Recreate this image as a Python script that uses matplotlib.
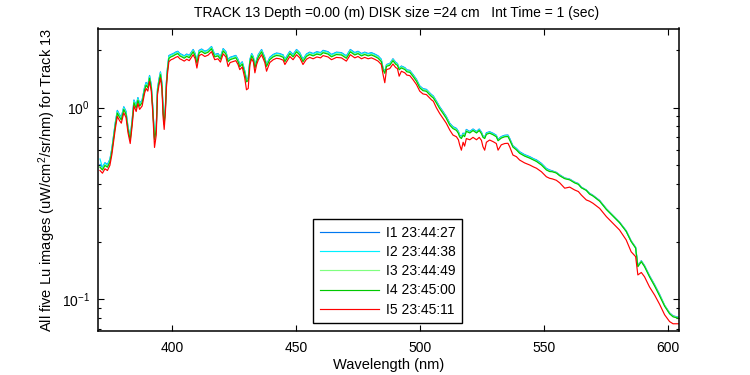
import matplotlib
matplotlib.use("Agg")
import matplotlib.pyplot as plt
from matplotlib.ticker import FixedLocator, LogLocator, NullFormatter

plt.rcParams['font.family'] = ['Liberation Sans', 'DejaVu Sans']
plt.rcParams['mathtext.default'] = 'regular'

wavelength = [
    371.0, 372.0, 373.0, 374.0, 375.0, 375.8, 376.5, 377.2, 378.0, 378.8,
    379.6, 380.6, 381.5, 382.3, 383.2, 384.0, 384.7, 385.6, 386.3, 387.0,
    388.0, 389.0, 389.6, 390.3, 391.0, 391.7, 392.3, 393.0, 393.7, 394.2,
    394.8, 395.4, 396.0, 396.5, 396.9, 397.4, 397.8, 398.2, 398.8,
    399.7, 400.6, 401.5, 402.4, 403.2, 404.0, 405.0, 406.0, 407.0, 408.0,
    408.6, 409.4, 410.1, 411.0, 412.0, 413.3, 414.6, 416.0, 417.3, 418.6,
    419.6, 420.7, 421.8, 422.7, 423.5, 424.7, 425.8, 426.7, 427.4, 428.4,
    429.4, 430.1, 430.8, 431.5, 432.2, 432.9, 433.5, 434.2, 434.9, 436.2,
    437.5, 438.2, 439.5, 440.9, 442.2, 443.5, 444.9, 445.6, 446.9, 447.6,
    448.9, 450.3, 451.6, 452.9, 454.3, 455.6, 457.0, 458.5, 460.0, 461.0,
    463.0, 464.4, 466.4, 468.4, 470.4, 472.0, 473.8, 475.1, 476.5, 477.8,
    479.2, 480.5, 481.8, 483.2, 484.5,
    485.2, 485.9, 486.6, 487.9, 489.2, 490.3, 491.0, 491.7, 492.6, 494.0,
    494.8, 496.0, 497.3, 498.7, 500.0, 501.3, 502.7, 503.8, 504.7, 505.5,
    506.7, 508.0, 509.4, 510.7, 512.1, 513.4, 514.8, 515.6, 516.1, 516.8,
    517.5, 518.1, 518.8,
    520.2, 521.5, 522.9, 524.0, 524.9, 525.5, 526.2, 526.9, 528.2, 529.6,
    530.9, 531.6, 532.9, 534.3, 535.6, 536.3, 537.6, 539.0, 540.3, 542.3,
    544.4, 546.0, 547.1, 549.1, 551.1, 552.4,
    553.5, 555.1, 556.5, 558.5, 560.5, 562.5, 564.0, 565.2, 567.2, 568.5,
    569.9, 572.6, 575.3, 578.0, 580.6, 583.3, 585.3, 587.1, 588.0, 589.4,
    590.7, 592.7, 594.8, 596.8, 598.8, 600.8, 602.2, 604.5,
]

I5 = [
    0.47, 0.455, 0.48, 0.47, 0.50, 0.57, 0.67, 0.78, 0.90, 0.86,
    0.83, 0.94, 0.89, 0.74, 0.65, 0.81, 1.02, 0.955, 1.05, 0.98,
    1.02, 1.19, 1.26, 1.22, 1.37, 1.22, 0.94, 0.62, 0.72, 1.17,
    1.31, 1.43, 1.25, 0.88, 0.77, 0.95, 1.27, 1.49, 1.74,
    1.78, 1.80, 1.83, 1.85, 1.80, 1.78, 1.75, 1.79, 1.76, 1.84,
    1.89, 1.80, 1.61, 1.87, 1.90, 1.85, 1.88, 1.96, 1.78, 1.80,
    1.73, 1.91, 1.84, 1.64, 1.72, 1.74, 1.76, 1.68, 1.58, 1.63,
    1.43, 1.24, 1.26, 1.68, 1.80, 1.73, 1.52, 1.68, 1.78, 1.89,
    1.72, 1.55, 1.72, 1.78, 1.81, 1.80, 1.77, 1.68, 1.79, 1.85,
    1.78, 1.89, 1.82, 1.68, 1.79, 1.83, 1.80, 1.84, 1.82, 1.87,
    1.84, 1.78, 1.83, 1.82, 1.75, 1.89, 1.82, 1.85, 1.80, 1.83,
    1.80, 1.82, 1.79, 1.75, 1.68,
    1.49, 1.35, 1.58, 1.60, 1.69, 1.62, 1.60, 1.46, 1.55, 1.52,
    1.48, 1.47, 1.40, 1.32, 1.22, 1.18, 1.17, 1.13, 1.10, 1.08,
    1.00, 0.935, 0.88, 0.83, 0.765, 0.72, 0.705, 0.68, 0.64, 0.60,
    0.66, 0.63, 0.69,
    0.68, 0.70, 0.68, 0.70, 0.675, 0.626, 0.60, 0.66, 0.678, 0.665,
    0.65, 0.60, 0.64, 0.65, 0.652, 0.625, 0.566, 0.555, 0.533, 0.515,
    0.502, 0.49, 0.483, 0.463, 0.436, 0.428,
    0.425, 0.418, 0.405, 0.38, 0.385, 0.372, 0.365, 0.35, 0.33, 0.325,
    0.317, 0.298, 0.27, 0.249, 0.23, 0.204, 0.177, 0.167, 0.134, 0.138,
    0.131, 0.116, 0.105, 0.094, 0.083, 0.0765, 0.0745, 0.0745,
]

I4 = [
    0.489, 0.473, 0.499, 0.489, 0.52, 0.593, 0.697, 0.811, 0.936, 0.894,
    0.863, 0.978, 0.926, 0.77, 0.676, 0.842, 1.061, 0.993, 1.092, 1.019,
    1.061, 1.238, 1.31, 1.269, 1.425, 1.269, 0.978, 0.682, 0.77, 1.217,
    1.362, 1.487, 1.30, 0.933, 0.816, 0.988, 1.321, 1.55, 1.81,
    1.842, 1.863, 1.894, 1.915, 1.863, 1.842, 1.811, 1.853, 1.822, 1.904,
    1.956, 1.863, 1.707, 1.935, 1.967, 1.915, 1.946, 2.029, 1.842, 1.863,
    1.791, 1.977, 1.904, 1.738, 1.78, 1.801, 1.822, 1.739, 1.635, 1.687,
    1.516, 1.364, 1.386, 1.739, 1.863, 1.791, 1.611, 1.739, 1.842, 1.956,
    1.78, 1.643, 1.78, 1.842, 1.873, 1.863, 1.832, 1.739, 1.853, 1.915,
    1.842, 1.956, 1.884, 1.739, 1.853, 1.894, 1.863, 1.904, 1.884, 1.935,
    1.904, 1.842, 1.894, 1.884, 1.811, 1.956, 1.884, 1.915, 1.863, 1.894,
    1.863, 1.884, 1.853, 1.811, 1.739,
    1.579, 1.512, 1.643, 1.664, 1.758, 1.685, 1.664, 1.577, 1.612, 1.581,
    1.539, 1.529, 1.456, 1.373, 1.269, 1.227, 1.217, 1.175, 1.144, 1.123,
    1.06, 0.991, 0.933, 0.88, 0.811, 0.778, 0.761, 0.734, 0.704, 0.69,
    0.719, 0.706, 0.752,
    0.738, 0.76, 0.738, 0.76, 0.732, 0.701, 0.69, 0.726, 0.736, 0.722,
    0.705, 0.672, 0.694, 0.705, 0.707, 0.678, 0.623, 0.602, 0.578, 0.559,
    0.545, 0.532, 0.524, 0.502, 0.473, 0.464,
    0.463, 0.456, 0.441, 0.426, 0.42, 0.405, 0.398, 0.382, 0.37, 0.354,
    0.346, 0.325, 0.294, 0.271, 0.251, 0.226, 0.200, 0.185, 0.148, 0.157,
    0.148, 0.131, 0.117, 0.104, 0.092, 0.084, 0.081, 0.0795,
]

I3 = [
    0.494, 0.478, 0.504, 0.494, 0.525, 0.599, 0.704, 0.819, 0.945, 0.903,
    0.872, 0.987, 0.935, 0.777, 0.683, 0.851, 1.071, 1.003, 1.103, 1.029,
    1.071, 1.25, 1.323, 1.281, 1.439, 1.281, 0.987, 0.688, 0.778, 1.229,
    1.376, 1.502, 1.313, 0.942, 0.824, 0.998, 1.334, 1.565, 1.827,
    1.86, 1.881, 1.912, 1.933, 1.881, 1.86, 1.829, 1.871, 1.839, 1.923,
    1.975, 1.881, 1.72, 1.954, 1.986, 1.933, 1.965, 2.048, 1.86, 1.881,
    1.808, 1.996, 1.923, 1.75, 1.797, 1.818, 1.839, 1.756, 1.651, 1.703,
    1.53, 1.38, 1.40, 1.756, 1.881, 1.808, 1.625, 1.756, 1.86, 1.975,
    1.797, 1.655, 1.797, 1.86, 1.891, 1.881, 1.85, 1.756, 1.871, 1.933,
    1.86, 1.975, 1.902, 1.756, 1.871, 1.912, 1.881, 1.923, 1.902, 1.954,
    1.923, 1.86, 1.912, 1.902, 1.829, 1.975, 1.902, 1.933, 1.881, 1.912,
    1.881, 1.902, 1.871, 1.829, 1.756,
    1.59, 1.52, 1.66, 1.68, 1.775, 1.70, 1.68, 1.585, 1.628, 1.596,
    1.554, 1.544, 1.47, 1.386, 1.281, 1.239, 1.229, 1.187, 1.155, 1.134,
    1.07, 1.0, 0.942, 0.888, 0.819, 0.785, 0.768, 0.741, 0.71, 0.695,
    0.726, 0.712, 0.759,
    0.741, 0.763, 0.741, 0.763, 0.736, 0.705, 0.693, 0.73, 0.739, 0.725,
    0.709, 0.676, 0.698, 0.709, 0.711, 0.681, 0.626, 0.605, 0.581, 0.561,
    0.547, 0.534, 0.526, 0.505, 0.475, 0.467,
    0.465, 0.458, 0.443, 0.428, 0.422, 0.407, 0.40, 0.383, 0.371, 0.356,
    0.347, 0.326, 0.296, 0.273, 0.252, 0.227, 0.201, 0.186, 0.149, 0.158,
    0.149, 0.132, 0.118, 0.105, 0.093, 0.0845, 0.0815, 0.08,
]

I2 = [
    0.54, 0.487, 0.514, 0.503, 0.535, 0.61, 0.717, 0.835, 0.963, 0.92,
    0.888, 1.006, 0.952, 0.792, 0.696, 0.867, 1.091, 1.022, 1.124, 1.049,
    1.091, 1.273, 1.348, 1.305, 1.466, 1.305, 1.006, 0.694, 0.787, 1.252,
    1.402, 1.53, 1.338, 0.95, 0.835, 1.017, 1.359, 1.594, 1.862,
    1.887, 1.908, 1.94, 1.961, 1.908, 1.887, 1.855, 1.897, 1.866, 1.95,
    2.003, 1.908, 1.74, 1.982, 2.014, 1.961, 1.993, 2.078, 1.887, 1.908,
    1.834, 2.025, 1.95, 1.77, 1.823, 1.844, 1.866, 1.781, 1.675, 1.728,
    1.55, 1.40, 1.42, 1.781, 1.908, 1.834, 1.64, 1.781, 1.887, 2.003,
    1.823, 1.67, 1.823, 1.887, 1.919, 1.908, 1.876, 1.781, 1.897, 1.961,
    1.887, 2.003, 1.929, 1.781, 1.897, 1.94, 1.908, 1.95, 1.929, 1.982,
    1.95, 1.887, 1.94, 1.929, 1.855, 2.003, 1.929, 1.961, 1.908, 1.94,
    1.908, 1.929, 1.897, 1.855, 1.781,
    1.60, 1.53, 1.675, 1.696, 1.79, 1.717, 1.696, 1.60, 1.643, 1.611,
    1.569, 1.558, 1.484, 1.399, 1.293, 1.251, 1.24, 1.198, 1.166, 1.145,
    1.08, 1.01, 0.95, 0.896, 0.826, 0.792, 0.775, 0.748, 0.717, 0.70,
    0.733, 0.718, 0.766,
    0.748, 0.77, 0.748, 0.77, 0.743, 0.71, 0.70, 0.736, 0.746, 0.732,
    0.715, 0.68, 0.704, 0.715, 0.717, 0.688, 0.63, 0.611, 0.586, 0.567,
    0.552, 0.539, 0.531, 0.509, 0.48, 0.471,
    0.465, 0.458, 0.443, 0.428, 0.422, 0.407, 0.40, 0.383, 0.371, 0.356,
    0.347, 0.326, 0.296, 0.273, 0.252, 0.227, 0.201, 0.186, 0.149, 0.158,
    0.149, 0.132, 0.118, 0.105, 0.093, 0.0845, 0.0815, 0.08,
]

I1 = [
    0.505, 0.489, 0.516, 0.505, 0.538, 0.613, 0.72, 0.839, 0.968, 0.925,
    0.892, 1.011, 0.957, 0.796, 0.699, 0.871, 1.097, 1.027, 1.129, 1.054,
    1.097, 1.279, 1.355, 1.312, 1.473, 1.312, 1.011, 0.70, 0.792, 1.258,
    1.408, 1.537, 1.344, 0.955, 0.84, 1.021, 1.365, 1.602, 1.871,
    1.896, 1.917, 1.949, 1.97, 1.917, 1.896, 1.864, 1.906, 1.874, 1.96,
    2.013, 1.917, 1.75, 1.992, 2.024, 1.97, 2.002, 2.087, 1.896, 1.917,
    1.842, 2.034, 1.96, 1.78, 1.832, 1.853, 1.874, 1.789, 1.683, 1.736,
    1.56, 1.41, 1.43, 1.789, 1.917, 1.842, 1.65, 1.789, 1.896, 2.013,
    1.832, 1.68, 1.832, 1.896, 1.928, 1.917, 1.885, 1.789, 1.906, 1.97,
    1.896, 2.013, 1.938, 1.789, 1.906, 1.949, 1.917, 1.96, 1.938, 1.992,
    1.96, 1.896, 1.949, 1.938, 1.864, 2.013, 1.938, 1.97, 1.917, 1.949,
    1.917, 1.938, 1.906, 1.864, 1.789,
    1.61, 1.54, 1.68, 1.70, 1.80, 1.725, 1.70, 1.605, 1.65, 1.618,
    1.576, 1.565, 1.49, 1.405, 1.30, 1.257, 1.246, 1.203, 1.172, 1.15,
    1.085, 1.014, 0.955, 0.901, 0.83, 0.796, 0.78, 0.752, 0.72, 0.705,
    0.737, 0.722, 0.77,
    0.751, 0.774, 0.751, 0.774, 0.746, 0.713, 0.703, 0.74, 0.749, 0.735,
    0.718, 0.684, 0.707, 0.718, 0.72, 0.691, 0.633, 0.613, 0.589, 0.569,
    0.555, 0.541, 0.534, 0.512, 0.482, 0.473,
    0.468, 0.46, 0.446, 0.43, 0.424, 0.409, 0.402, 0.385, 0.372, 0.358,
    0.349, 0.328, 0.297, 0.274, 0.253, 0.228, 0.202, 0.187, 0.15, 0.159,
    0.15, 0.133, 0.119, 0.106, 0.093, 0.085, 0.082, 0.0805,
]

series = [I1, I2, I3, I4, I5]
labels = ["I1 23:44:27", "I2 23:44:38", "I3 23:44:49", "I4 23:45:00", "I5 23:45:11"]
colors = ["#0078F0", "#00F0FF", "#80FF80", "#00C800", "#FF0000"]
xticks = [400, 450, 500, 550, 600]
title = "TRACK 13 Depth =0.00 (m) DISK size =24 cm   Int Time = 1 (sec)"
xlabel = "Wavelength (nm)"
ylabel = "All five Lu images (uW/cm$^2$/sr/nm) for Track 13"

fig = plt.figure(figsize=(7.5, 3.75), dpi=100)
ax = fig.add_axes([98 / 750, 1 - 331 / 375, 581 / 750, 302.5 / 375])

for ys, lab, col in zip(series, labels, colors):
    ax.plot(wavelength, ys, color=col, lw=0.85, label=lab)

ax.set_yscale('log')
ax.set_xlim(370.2, 604.6)
ax.set_ylim(0.0683, 2.59)
ax.xaxis.set_major_locator(FixedLocator(xticks))
ax.yaxis.set_major_locator(LogLocator(base=10))
ax.yaxis.set_minor_locator(LogLocator(base=10, subs=range(2, 10)))
ax.yaxis.set_minor_formatter(NullFormatter())

ax.tick_params(axis='both', which='both', direction='in', top=True, right=True,
               width=0.8, color='black')
ax.tick_params(axis='both', which='major', length=4, labelsize=10)
ax.tick_params(axis='y', which='minor', length=2.5)
ax.tick_params(axis='x', which='major', pad=7)
ax.tick_params(axis='y', which='major', pad=6)
for sp in ax.spines.values():
    sp.set_linewidth(1.1)

ax.set_title(title, fontsize=10, pad=8, x=(397 - 98) / 581)
ax.set_xlabel(xlabel, fontsize=10.5, labelpad=2)
ax.set_ylabel(ylabel, fontsize=10.5)
ax.yaxis.set_label_coords((58 - 98) / 581, 0.5)

leg = ax.legend(loc='upper left', bbox_to_anchor=(312.7 / 750, 1 - 219 / 375),
                bbox_transform=fig.transFigure, borderaxespad=0, fontsize=10,
                frameon=True, fancybox=False, shadow=False, borderpad=0.5,
                handlelength=4.3, handletextpad=0.45, labelspacing=0.37)
leg.get_frame().set_edgecolor('black')
leg.get_frame().set_linewidth(1.0)
leg.get_frame().set_alpha(1)

fig.savefig("out.png", dpi=100)
